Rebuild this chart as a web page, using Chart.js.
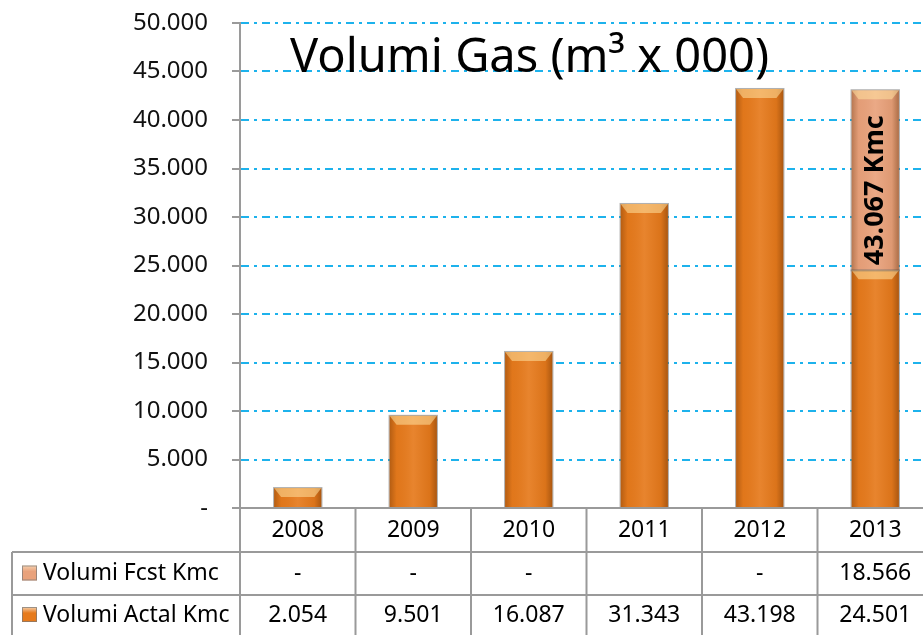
<!DOCTYPE html>
<html>
<head>
<meta charset="utf-8">
<script src="https://cdn.jsdelivr.net/npm/chart.js@4.4.0/dist/chart.umd.min.js"></script>
<style>
  html, body { margin: 0; padding: 0; overflow: hidden; background: #fff; }
</style>
</head>
<body>
<canvas id="chart" width="933" height="635"></canvas>
<script>
// chart data
const years = ["2008", "2009", "2010", "2011", "2012", "2013"];
const actualValues = [2054, 9501, 16087, 31343, 43198, 24501];
const forecastValues = [0, 0, 0, null, 0, 18566];
const actualLabel = "Volumi Actal Kmc";
const forecastLabel = "Volumi Fcst Kmc";
const titleText = "Volumi Gas (m³ x 000)";
const totalSuffix = " Kmc";

const FONT = "'Noto Sans', 'Open Sans', sans-serif";
const ACTUAL_COLOR = "#E67A1C";
const FCST_COLOR = "#E9A27C";
const LINE_GRAY = "#9a9a9a";

// italian thousands separator, zero shown as "-"
function fmtIt(v) {
  if (v === null || v === undefined) return "";
  if (v === 0) return "-";
  return String(Math.round(v)).replace(/\B(?=(\d{3})+(?!\d))/g, ".");
}

// shading + bevel on top of each bar
const bevelPlugin = {
  id: "bevel",
  afterDatasetsDraw(chart) {
    const ctx = chart.ctx;
    chart.data.datasets.forEach((ds, di) => {
      const meta = chart.getDatasetMeta(di);
      meta.data.forEach((bar) => {
        const { x, y, base, width } = bar.getProps(["x", "y", "base", "width"], true);
        const h = base - y;
        if (!(h > 1)) return;
        const l = x - width / 2;
        const r = x + width / 2;
        ctx.save();
        const g = ctx.createLinearGradient(l, 0, r, 0);
        g.addColorStop(0, "rgba(90,40,0,0.35)");
        g.addColorStop(0.15, "rgba(90,40,0,0.04)");
        g.addColorStop(0.5, "rgba(255,255,255,0.08)");
        g.addColorStop(0.85, "rgba(90,40,0,0.08)");
        g.addColorStop(1, "rgba(90,40,0,0.42)");
        ctx.fillStyle = g;
        ctx.fillRect(l, y, width, h);
        const bh = Math.min(9, h / 2);
        ctx.beginPath();
        ctx.moveTo(l, y);
        ctx.lineTo(r, y);
        ctx.lineTo(r - 7, y + bh);
        ctx.lineTo(l + 7, y + bh);
        ctx.closePath();
        ctx.fillStyle = "rgba(255,225,160,0.55)";
        ctx.fill();
        ctx.strokeStyle = "rgba(110,110,110,0.55)";
        ctx.lineWidth = 1;
        ctx.strokeRect(l - 0.5, y - 0.5, width + 1, h + 1);
        ctx.restore();
      });
    });

    // total label inside the forecast bar of the last year
    const last = years.length - 1;
    const fbar = chart.getDatasetMeta(1).data[last];
    if (fbar && forecastValues[last]) {
      const total = actualValues[last] + forecastValues[last];
      const { x, y, base } = fbar.getProps(["x", "y", "base"], true);
      ctx.save();
      ctx.translate(x, (y + base) / 2 + 10);
      ctx.rotate(-Math.PI / 2);
      ctx.font = "bold 27px " + FONT;
      ctx.fillStyle = "#000";
      ctx.textAlign = "center";
      ctx.textBaseline = "middle";
      ctx.fillText(fmtIt(total) + totalSuffix, 0, 0);
      ctx.restore();
    }
  },
};

// title + data table under the plot
const tablePlugin = {
  id: "dataTable",
  afterDraw(chart) {
    const { ctx, chartArea: a, scales } = chart;
    const x = scales.x;
    const step = x.getPixelForValue(1) - x.getPixelForValue(0);
    const rowTops = [a.bottom, a.bottom + 44, a.bottom + 87, a.bottom + 127];
    const tableLeft = 12;

    ctx.save();
    // title
    ctx.font = "47px " + FONT;
    ctx.fillStyle = "#000";
    ctx.textAlign = "left";
    ctx.textBaseline = "alphabetic";
    ctx.fillText(titleText, 290, 72);

    // grid of the table
    ctx.strokeStyle = LINE_GRAY;
    ctx.lineWidth = 2;
    ctx.beginPath();
    ctx.moveTo(a.left - 8, rowTops[0]);
    ctx.lineTo(a.right, rowTops[0]);
    ctx.moveTo(tableLeft, rowTops[1]);
    ctx.lineTo(a.right, rowTops[1]);
    ctx.moveTo(tableLeft, rowTops[2]);
    ctx.lineTo(a.right, rowTops[2]);
    ctx.moveTo(tableLeft, rowTops[1]);
    ctx.lineTo(tableLeft, rowTops[3]);
    for (let i = 0; i < years.length; i++) {
      const bx = x.getPixelForValue(i) - step / 2;
      ctx.moveTo(bx, rowTops[0]);
      ctx.lineTo(bx, rowTops[3]);
    }
    ctx.stroke();

    // texts
    ctx.font = "23px " + FONT;
    ctx.fillStyle = "#000";
    ctx.textBaseline = "middle";
    ctx.textAlign = "center";
    const mid = (r) => (rowTops[r] + rowTops[r + 1]) / 2;
    years.forEach((yr, i) => {
      const cx = x.getPixelForValue(i);
      ctx.fillText(yr, cx, mid(0));
      ctx.fillText(fmtIt(forecastValues[i]), cx, mid(1));
      ctx.fillText(fmtIt(actualValues[i]), cx, mid(2));
    });

    // legend keys
    const rows = [
      { label: forecastLabel, color: FCST_COLOR, r: 1 },
      { label: actualLabel, color: ACTUAL_COLOR, r: 2 },
    ];
    rows.forEach((row) => {
      const cy = mid(row.r);
      const kx = 22, ky = cy - 8, ks = 15;
      const g = ctx.createLinearGradient(0, ky, 0, ky + ks);
      g.addColorStop(0, "#f6d2b0");
      g.addColorStop(0.4, row.color);
      g.addColorStop(1, row.color);
      ctx.fillStyle = g;
      ctx.fillRect(kx, ky, ks, ks);
      ctx.strokeStyle = "rgba(120,120,120,0.7)";
      ctx.lineWidth = 1;
      ctx.strokeRect(kx + 0.5, ky + 0.5, ks - 1, ks - 1);
      ctx.fillStyle = "#000";
      ctx.textAlign = "left";
      ctx.fillText(row.label, 43, cy);
    });
    ctx.restore();
  },
};

const chart = new Chart(document.getElementById("chart"), {
  type: "bar",
  data: {
    labels: years,
    datasets: [
      {
        label: actualLabel,
        data: actualValues,
        backgroundColor: ACTUAL_COLOR,
        borderWidth: 0,
        barPercentage: 0.41,
        categoryPercentage: 1,
      },
      {
        label: forecastLabel,
        data: forecastValues,
        backgroundColor: FCST_COLOR,
        borderWidth: 0,
        barPercentage: 0.41,
        categoryPercentage: 1,
      },
    ],
  },
  options: {
    responsive: false,
    animation: false,
    devicePixelRatio: 1,
    layout: { padding: { top: 23, bottom: 127, left: 0, right: 0 } },
    plugins: { legend: { display: false }, tooltip: { enabled: false } },
    scales: {
      x: { stacked: true, display: false },
      y: {
        stacked: true,
        min: 0,
        max: 50000,
        afterFit(scale) {
          scale.width = 240;
          scale.paddingTop = 0;
          scale.paddingBottom = 0;
        },
        ticks: {
          stepSize: 5000,
          padding: 24,
          color: "#111",
          font: { family: FONT, size: 24 },
          callback: (v) => fmtIt(v),
        },
        grid: {
          color: (c) => (c.tick && c.tick.value === 0 ? "rgba(0,0,0,0)" : "#1DB2EC"),
          lineWidth: 2,
          tickColor: LINE_GRAY,
          tickLength: 8,
          tickWidth: 2,
        },
        border: { color: LINE_GRAY, width: 2, dash: [8, 5, 3, 5] },
      },
    },
  },
  plugins: [bevelPlugin, tablePlugin],
});
</script>
</body>
</html>
